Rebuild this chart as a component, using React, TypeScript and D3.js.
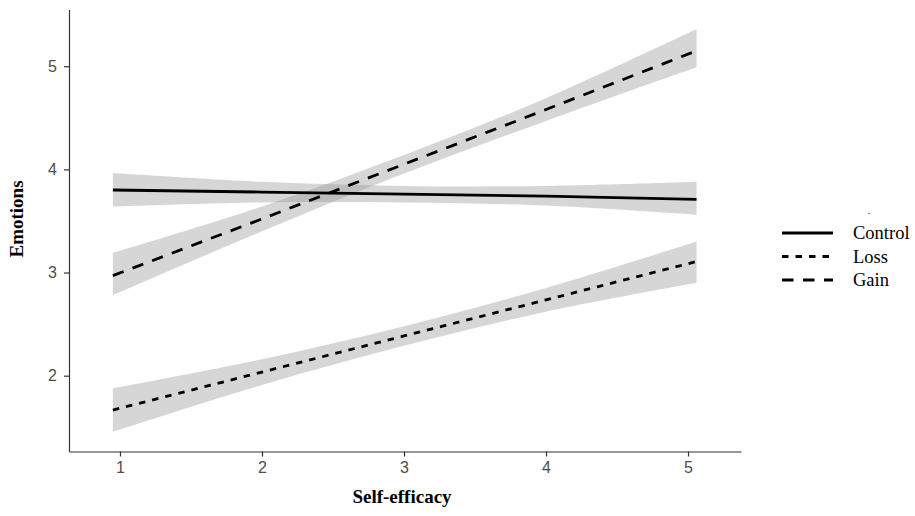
import React, { useRef, useEffect } from 'react';
import * as d3 from 'd3';

const xs = [0.95, 2, 3, 4, 5.06];

const controlFit = [3.8, 3.78, 3.76, 3.74, 3.71];
const controlLow = [3.64, 3.68, 3.68, 3.65, 3.56];
const controlHigh = [3.965, 3.88, 3.84, 3.84, 3.88];

const lossFit = [1.667, 2.035, 2.385, 2.735, 3.107];
const lossLow = [1.456, 1.91, 2.29, 2.62, 2.9];
const lossHigh = [1.878, 2.16, 2.48, 2.85, 3.3];

const gainFit = [2.97, 3.52, 4.05, 4.58, 5.15];
const gainLow = [2.78, 3.4, 3.96, 4.47, 4.99];
const gainHigh = [3.19, 3.64, 4.14, 4.69, 5.36];

const xTicks = [1, 2, 3, 4, 5];
const yTicks = [2, 3, 4, 5];

const series = [
  { name: 'Control', fit: controlFit, low: controlLow, high: controlHigh, dash: null },
  { name: 'Loss', fit: lossFit, low: lossLow, high: lossHigh, dash: '6.5,7' },
  { name: 'Gain', fit: gainFit, low: gainLow, high: gainHigh, dash: '11.5,9.5' },
];

const App = () => {
  const svgRef = useRef(null);

  useEffect(() => {
    const svg = d3.select(svgRef.current);
    svg.selectAll('*').remove();

    const x = d3.scaleLinear().domain([0.641, 5.373]).range([69, 741]);
    const y = d3.scaleLinear().domain([1.265, 5.55]).range([451.5, 9.5]);

    const area = d3.area()
      .x(d => x(d[0]))
      .y0(d => y(d[1]))
      .y1(d => y(d[2]))
      .curve(d3.curveCatmullRom);

    const line = d3.line()
      .x(d => x(d[0]))
      .y(d => y(d[1]));

    // confidence bands first
    series.forEach(s => {
      svg.append('path')
        .datum(xs.map((v, i) => [v, s.low[i], s.high[i]]))
        .attr('d', area)
        .attr('fill', '#999999')
        .attr('fill-opacity', 0.4);
    });

    series.forEach(s => {
      svg.append('path')
        .datum(xs.map((v, i) => [v, s.fit[i]]))
        .attr('d', line)
        .attr('fill', 'none')
        .attr('stroke', '#000')
        .attr('stroke-width', 2.8)
        .attr('stroke-dasharray', s.dash);
    });

    const fmt = d3.format('d');

    const xAxis = svg.append('g')
      .attr('transform', 'translate(0,451.5)')
      .call(d3.axisBottom(x).tickValues(xTicks).tickFormat(fmt).tickSize(5).tickSizeOuter(0).tickPadding(5));

    const yAxis = svg.append('g')
      .attr('transform', 'translate(69,0)')
      .call(d3.axisLeft(y).tickValues(yTicks).tickFormat(fmt).tickSize(5).tickSizeOuter(0).tickPadding(7));

    [xAxis, yAxis].forEach(g => {
      g.select('.domain').attr('stroke', '#333').attr('stroke-width', 1.2);
      g.selectAll('.tick line').attr('stroke', '#333').attr('stroke-width', 1.2);
      g.selectAll('.tick text')
        .attr('fill', '#4d4d4d')
        .style('font-family', '"Liberation Sans", Arial, sans-serif')
        .style('font-size', '16px');
    });

    svg.append('text')
      .attr('x', 402)
      .attr('y', 503)
      .attr('text-anchor', 'middle')
      .style('font-family', '"Liberation Serif", "Times New Roman", serif')
      .style('font-weight', 'bold')
      .style('font-size', '19px')
      .text('Self-efficacy');

    svg.append('text')
      .attr('transform', 'translate(23,219) rotate(-90)')
      .attr('text-anchor', 'middle')
      .style('font-family', '"Liberation Serif", "Times New Roman", serif')
      .style('font-weight', 'bold')
      .style('font-size', '19px')
      .text('Emotions');

    // legend
    const legend = svg.append('g').attr('transform', 'translate(782,233)');
    legend.append('text')
      .attr('x', 87)
      .attr('y', -19)
      .attr('text-anchor', 'middle')
      .style('font-size', '10px')
      .style('font-family', '"Liberation Serif", serif')
      .text('.');

    series.forEach((s, i) => {
      const row = legend.append('g').attr('transform', `translate(0,${i * 23.5})`);
      row.append('line')
        .attr('x1', 0)
        .attr('x2', 51)
        .attr('stroke', '#000')
        .attr('stroke-width', 2.8)
        .attr('stroke-dasharray', s.dash);
      row.append('text')
        .attr('x', 71)
        .attr('y', 6)
        .style('font-family', '"Liberation Serif", "Times New Roman", serif')
        .style('font-size', '18.5px')
        .text(s.name);
    });
  }, []);

  return (
    <svg
      ref={svgRef}
      width="915"
      height="516"
      style={{ position: 'absolute', left: 0, top: 0, background: '#fff' }}
    ></svg>
  );
};

export default App;
